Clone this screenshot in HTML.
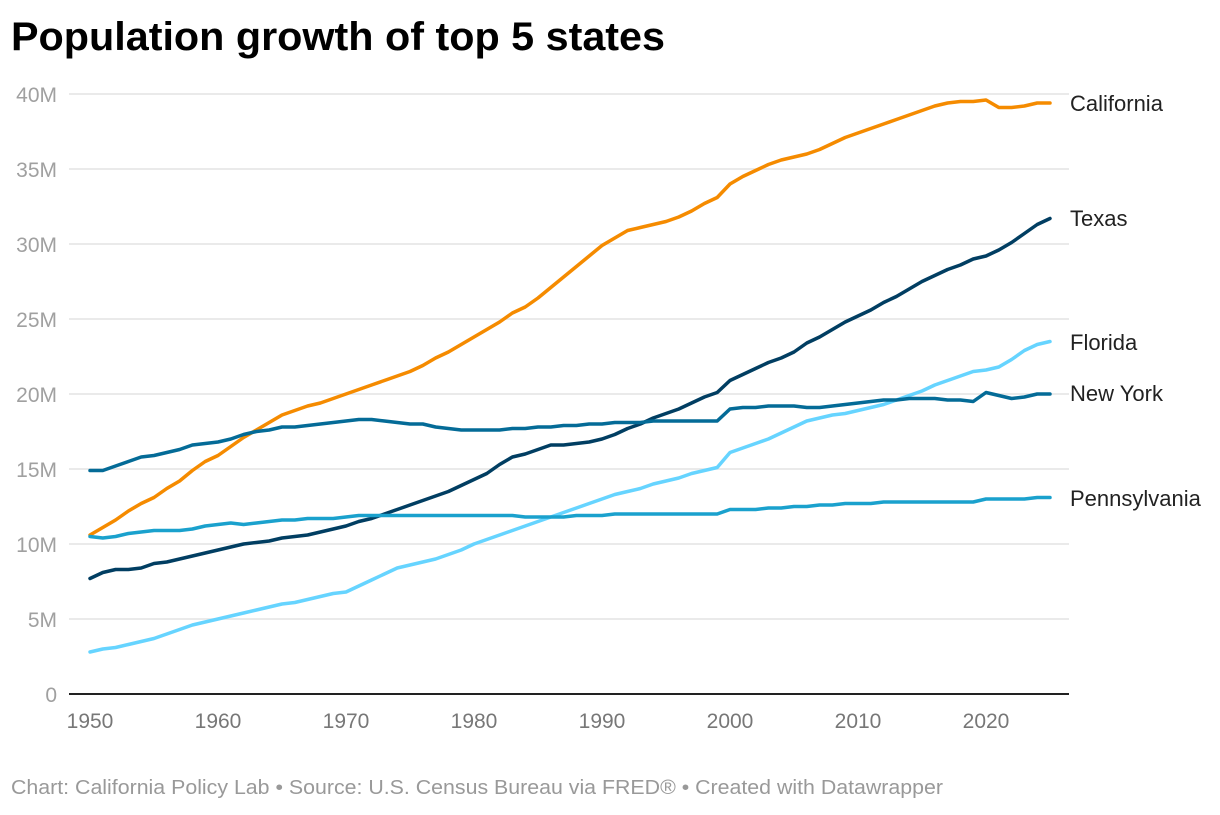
<!DOCTYPE html>
<html><head><meta charset="utf-8"><style>
body{margin:0;background:#fff;width:1220px;height:810px;overflow:hidden;font-family:"Liberation Sans",sans-serif}
</style></head><body>
<svg id="chart" width="1220" height="810" xmlns="http://www.w3.org/2000/svg">
<text x="11" y="50" font-size="40" font-weight="bold" fill="#000" textLength="654" lengthAdjust="spacingAndGlyphs" font-family="Liberation Sans, sans-serif">Population growth of top 5 states</text>
<g id="grid"></g><g id="lines"></g><g id="labels"></g>
<text x="11" y="794" font-size="20" fill="#999" textLength="932" lengthAdjust="spacingAndGlyphs" font-family="Liberation Sans, sans-serif">Chart: California Policy Lab • Source: U.S. Census Bureau via FRED® • Created with Datawrapper</text>
</svg>
<script>
const years=[];for(let y=1950;y<=2025;y++)years.push(y);
const yTicks=[0,5,10,15,20,25,30,35,40];
const yTickLabels=["0","5M","10M","15M","20M","25M","30M","35M","40M"];
const xTicks=[1950,1960,1970,1980,1990,2000,2010,2020];
const seriesNames=["California","Texas","Florida","New York","Pennsylvania"];
const california=[10.6,11.1,11.6,12.2,12.7,13.1,13.7,14.2,14.9,15.5,15.9,16.5,17.1,17.6,18.1,18.6,18.9,19.2,19.4,19.7,20.0,20.3,20.6,20.9,21.2,21.5,21.9,22.4,22.8,23.3,23.8,24.3,24.8,25.4,25.8,26.4,27.1,27.8,28.5,29.2,29.9,30.4,30.9,31.1,31.3,31.5,31.8,32.2,32.7,33.1,34.0,34.5,34.9,35.3,35.6,35.8,36.0,36.3,36.7,37.1,37.4,37.7,38.0,38.3,38.6,38.9,39.2,39.4,39.5,39.5,39.6,39.1,39.1,39.2,39.4,39.4];
const texas=[7.7,8.1,8.3,8.3,8.4,8.7,8.8,9.0,9.2,9.4,9.6,9.8,10.0,10.1,10.2,10.4,10.5,10.6,10.8,11.0,11.2,11.5,11.7,12.0,12.3,12.6,12.9,13.2,13.5,13.9,14.3,14.7,15.3,15.8,16.0,16.3,16.6,16.6,16.7,16.8,17.0,17.3,17.7,18.0,18.4,18.7,19.0,19.4,19.8,20.1,20.9,21.3,21.7,22.1,22.4,22.8,23.4,23.8,24.3,24.8,25.2,25.6,26.1,26.5,27.0,27.5,27.9,28.3,28.6,29.0,29.2,29.6,30.1,30.7,31.3,31.7];
const florida=[2.8,3.0,3.1,3.3,3.5,3.7,4.0,4.3,4.6,4.8,5.0,5.2,5.4,5.6,5.8,6.0,6.1,6.3,6.5,6.7,6.8,7.2,7.6,8.0,8.4,8.6,8.8,9.0,9.3,9.6,10.0,10.3,10.6,10.9,11.2,11.5,11.8,12.1,12.4,12.7,13.0,13.3,13.5,13.7,14.0,14.2,14.4,14.7,14.9,15.1,16.1,16.4,16.7,17.0,17.4,17.8,18.2,18.4,18.6,18.7,18.9,19.1,19.3,19.6,19.9,20.2,20.6,20.9,21.2,21.5,21.6,21.8,22.3,22.9,23.3,23.5];
const newYork=[14.9,14.9,15.2,15.5,15.8,15.9,16.1,16.3,16.6,16.7,16.8,17.0,17.3,17.5,17.6,17.8,17.8,17.9,18.0,18.1,18.2,18.3,18.3,18.2,18.1,18.0,18.0,17.8,17.7,17.6,17.6,17.6,17.6,17.7,17.7,17.8,17.8,17.9,17.9,18.0,18.0,18.1,18.1,18.1,18.2,18.2,18.2,18.2,18.2,18.2,19.0,19.1,19.1,19.2,19.2,19.2,19.1,19.1,19.2,19.3,19.4,19.5,19.6,19.6,19.7,19.7,19.7,19.6,19.6,19.5,20.1,19.9,19.7,19.8,20.0,20.0];
const pennsylvania=[10.5,10.4,10.5,10.7,10.8,10.9,10.9,10.9,11.0,11.2,11.3,11.4,11.3,11.4,11.5,11.6,11.6,11.7,11.7,11.7,11.8,11.9,11.9,11.9,11.9,11.9,11.9,11.9,11.9,11.9,11.9,11.9,11.9,11.9,11.8,11.8,11.8,11.8,11.9,11.9,11.9,12.0,12.0,12.0,12.0,12.0,12.0,12.0,12.0,12.0,12.3,12.3,12.3,12.4,12.4,12.5,12.5,12.6,12.6,12.7,12.7,12.7,12.8,12.8,12.8,12.8,12.8,12.8,12.8,12.8,13.0,13.0,13.0,13.0,13.1,13.1];
const seriesValues=[california,texas,florida,newYork,pennsylvania];
const colors=["#f58b00","#013e62","#66d4ff","#046b97","#1aa1cd"];
const NS="http://www.w3.org/2000/svg";
const X=y=>90+(y-1950)*12.8;
const Y=v=>694-v*15;
function mk(t,a,p){const e=document.createElementNS(NS,t);for(const k in a)e.setAttribute(k,a[k]);p.appendChild(e);return e;}
const grid=document.getElementById('grid');
yTicks.forEach((v,i)=>{
  if(v>0){const l=mk('line',{x1:69,x2:1069,y1:Y(v),y2:Y(v),stroke:'#e3e3e3','stroke-width':1.5},grid);
  
  }
  const t=mk('text',{x:57,y:Y(v)+8,'text-anchor':'end','font-size':21,fill:'#a0a0a0'},grid);
  t.textContent=yTickLabels[i];
  
  
});
const ax=mk('line',{x1:69,x2:1069,y1:694,y2:694,stroke:'#222','stroke-width':2},grid);


xTicks.forEach(y=>{
  const t=mk('text',{x:X(y),y:728,'text-anchor':'middle','font-size':21,fill:'#777'},grid);
  t.textContent=y;
  
  
});
const lines=document.getElementById('lines'),labels=document.getElementById('labels');
const labelY=[103,218,342,393,498];
seriesValues.forEach((vals,i)=>{
  const d=vals.map((v,j)=>(j?'L':'M')+X(years[j]).toFixed(1)+','+Y(v).toFixed(1)).join('');
  const p=mk('path',{d:d,fill:'none',stroke:colors[i],'stroke-width':3.5,'stroke-linejoin':'round','stroke-linecap':'round'},lines);
  
  
  const t=mk('text',{x:1070,y:labelY[i]+8,'font-size':22,fill:'#222'},labels);
  t.textContent=seriesNames[i];
  
  
});
</script>
</body></html>
